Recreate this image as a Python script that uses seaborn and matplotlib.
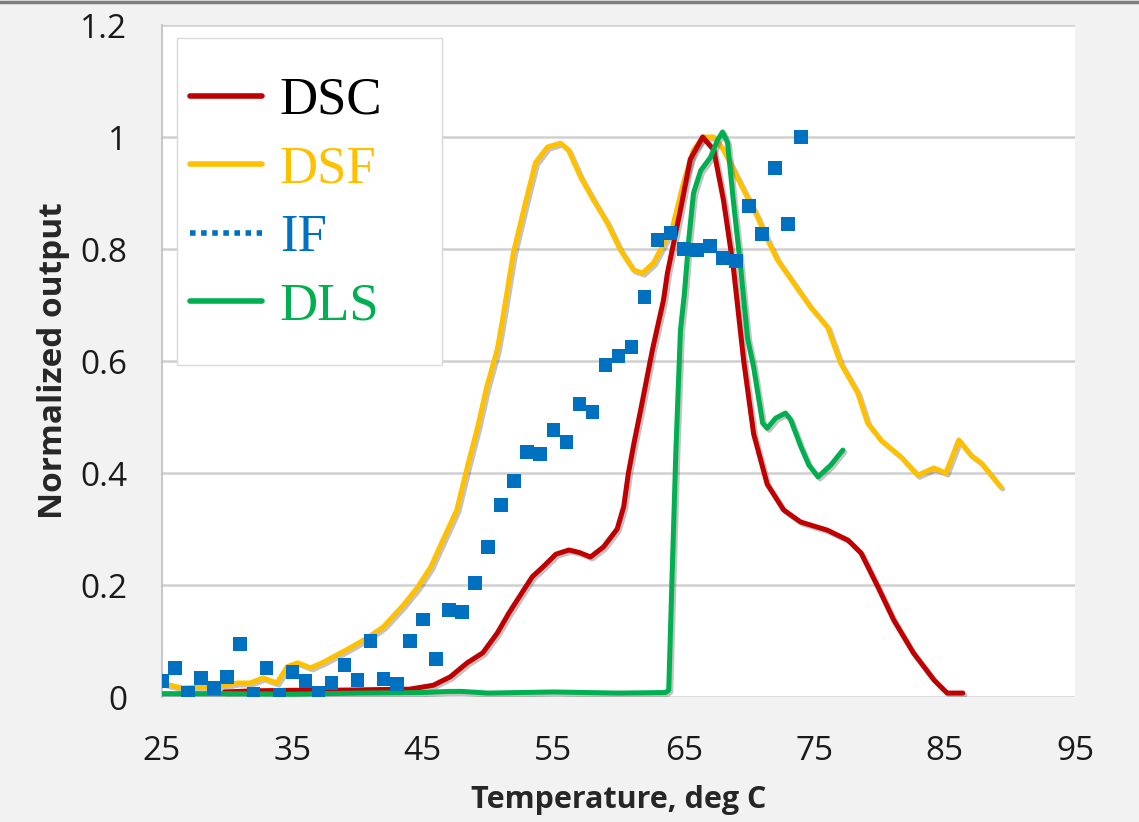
import numpy as np
import pandas as pd
import matplotlib
matplotlib.use("Agg")
import matplotlib.pyplot as plt
import matplotlib.patheffects as pe
from matplotlib.lines import Line2D
from matplotlib.patches import Rectangle
import seaborn as sns

# --- data ---
dsc_t = [29.8, 32, 35, 38, 41, 44, 45.8, 47.1, 48.4, 49.6, 50.7, 51.6, 52.7, 53.4, 54.2,
         55.2, 56.2, 57.0, 57.85, 58.85, 59.9, 60.4, 60.76, 61.2, 61.7, 62.6, 63.45, 63.75,
         64.75, 65.5, 66.45, 67.3, 68.05, 68.8, 69.6, 70.36, 71.4, 72.66, 73.96, 76.0,
         77.6, 78.6, 79.9, 81.1, 82.6, 84.2, 85.2, 86.4]
dsc_y = [0.009, 0.011, 0.012, 0.012, 0.013, 0.014, 0.021, 0.036, 0.061, 0.079, 0.114, 0.15,
         0.19, 0.215, 0.232, 0.255, 0.2625, 0.258, 0.25, 0.268, 0.30, 0.34, 0.40, 0.455,
         0.5125, 0.62, 0.709, 0.757, 0.87, 0.96, 1.0, 0.977, 0.887, 0.768, 0.6, 0.47, 0.38,
         0.334, 0.3125, 0.298, 0.28, 0.257, 0.196, 0.1375, 0.079, 0.03, 0.007, 0.007]

dsf_t = [25, 25.6, 26.6, 27.7, 29.2, 30.75, 31.75, 32.75, 33.8, 34.6, 35.4, 36.4, 37.4,
         38.4, 39.4, 40.7, 41.96, 43.5, 44.6, 45.6, 46.3, 47.6, 48.4, 49.2, 49.9, 50.7,
         51.1, 51.94, 52.86, 53.63, 54.55, 55.55, 56.16, 57.08, 58.08, 59.15, 60.15, 61.15,
         61.84, 62.68, 63.2, 64.14, 64.98, 65.75, 66.52, 67.29, 68.05, 68.82, 69.6, 70.66,
         71.43, 72.2, 73.43, 74.73, 76.04, 77.03, 78.34, 79.1, 80.1, 81.64, 82.94, 84.17,
         85.1, 86.09, 87.0, 87.8, 89.3]
dsf_y = [0.025, 0.021, 0.016, 0.018, 0.018, 0.025, 0.025, 0.034, 0.025, 0.054, 0.061, 0.052,
         0.0625, 0.075, 0.0875, 0.105, 0.125, 0.164, 0.196, 0.232, 0.268, 0.334, 0.41, 0.482,
         0.554, 0.62, 0.673, 0.793, 0.882, 0.954, 0.982, 0.989, 0.977, 0.929, 0.8875, 0.846,
         0.798, 0.7625, 0.757, 0.775, 0.798, 0.839, 0.918, 0.977, 1.0, 1.0, 0.977, 0.941,
         0.905, 0.857, 0.816, 0.78, 0.739, 0.696, 0.66, 0.596, 0.543, 0.489, 0.459, 0.429,
         0.396, 0.409, 0.4, 0.459, 0.432, 0.418, 0.375]

if_t = list(range(25, 75))
if_y = [0.029, 0.052, 0.007, 0.034, 0.016, 0.036, 0.095, 0.005, 0.052, 0.004,
        0.045, 0.029, 0.007, 0.025, 0.057, 0.03, 0.10, 0.032, 0.023, 0.10,
        0.138, 0.068, 0.155, 0.152, 0.204, 0.268, 0.343, 0.386, 0.4375, 0.434,
        0.477, 0.455, 0.523, 0.509, 0.593, 0.609, 0.625, 0.714, 0.816, 0.829,
        0.80, 0.798, 0.805, 0.784, 0.779, 0.877, 0.827, 0.945, 0.845, 1.0]

dls_t = [25, 30, 35, 40, 45, 47, 48, 50, 55, 60, 63.6, 63.85, 64.1, 64.4, 64.75, 65.05,
         65.4, 65.75, 66.3, 67.06, 67.6, 67.98, 68.36, 68.8, 69.36, 69.6, 69.9, 70.36,
         71.05, 71.4, 72.05, 72.8, 73.2, 74.0, 74.6, 75.3, 76.27, 77.2]
dls_y = [0.006, 0.006, 0.005, 0.007, 0.008, 0.01, 0.01, 0.007, 0.009, 0.007, 0.008, 0.012,
         0.21, 0.44, 0.655, 0.72, 0.82, 0.9, 0.94, 0.964, 0.995, 1.009, 0.99, 0.887, 0.768,
         0.71, 0.64, 0.589, 0.489, 0.48, 0.498, 0.507, 0.495, 0.446, 0.414, 0.393, 0.414,
         0.441]

x_ticks = [25, 35, 45, 55, 65, 75, 85, 95]
y_ticks = [0, 0.2, 0.4, 0.6, 0.8, 1.0, 1.2]
y_tick_labels = ["0", "0.2", "0.4", "0.6", "0.8", "1", "1.2"]

colors = {"DSC": "#c00000", "DSF": "#ffc000", "IF": "#0070c0", "DLS": "#00b050"}

sns.set_style("white")
plt.rcParams["font.family"] = ["Open Sans", "DejaVu Sans"]

fig = plt.figure(figsize=(11.39, 8.22), dpi=100, facecolor="#f2f2f2")
ax = fig.add_axes([162 / 1139, 1 - 697 / 822, 913 / 1139, 672 / 822])
ax.set_facecolor("white")

shadow = [pe.SimpleLineShadow(offset=(1.5, -1.5), shadow_color="#555555", alpha=0.35),
          pe.Normal()]

for name, t, y in [("DSF", dsf_t, dsf_y), ("DSC", dsc_t, dsc_y), ("DLS", dls_t, dls_y)]:
    df = pd.DataFrame({"t": t, "y": y})
    sns.lineplot(data=df, x="t", y="y", ax=ax, color=colors[name], lw=3.6,
                 sort=False, path_effects=shadow, zorder=3)

df_if = pd.DataFrame({"t": if_t, "y": if_y})
sns.scatterplot(data=df_if, x="t", y="y", ax=ax, marker="s", s=95,
                color=colors["IF"], edgecolor="none", zorder=4)

ax.set_xlim(25, 95)
ax.set_ylim(0, 1.2)
ax.set_xticks(x_ticks)
ax.set_yticks(y_ticks)
ax.set_yticklabels(y_tick_labels)
ax.tick_params(axis="both", length=0, labelsize=24, colors="#1a1a1a")
ax.tick_params(axis="x", pad=27)
ax.tick_params(axis="y", pad=25)
ax.yaxis.grid(True, color="#d0d0d0", lw=1.8)
ax.set_axisbelow(True)
for s in ["top", "right", "bottom"]:
    ax.spines[s].set_visible(False)
ax.spines["left"].set_color("#c8c8c8")
ax.spines["left"].set_linewidth(1.5)

ax.set_xlabel("Temperature, deg C", fontsize=22, fontweight="bold")
ax.set_ylabel("Normalized output", fontsize=24, fontweight="bold")
ax.xaxis.set_label_coords(0.5, (697 - 785) / 672)
ax.yaxis.set_label_coords((70 - 162) / 913, 0.5)

# legend frame (Excel-style box), legend entries drawn without their own frame
ax.add_patch(Rectangle((15 / 913, 332 / 672), 265 / 913, 327 / 672,
                       transform=ax.transAxes, facecolor="white",
                       edgecolor="#d9d9d9", lw=1.0, zorder=5))
handles = [Line2D([], [], color=colors["DSC"], lw=4),
           Line2D([], [], color=colors["DSF"], lw=4),
           Line2D([], [], color=colors["IF"], lw=4, ls=(0, (1, 1))),
           Line2D([], [], color=colors["DLS"], lw=4)]
leg = ax.legend(handles, ["DSC", "DSF", "IF", "DLS"], loc="upper left",
                bbox_to_anchor=(28 / 913, 620 / 672), borderaxespad=0, borderpad=0,
                frameon=False, prop={"family": "Liberation Serif", "size": 38},
                handlelength=1.36, handletextpad=0.34, labelspacing=0.39,
                labelcolor=["black", colors["DSF"], colors["IF"], colors["DLS"]])
leg.set_zorder(6)

fig.add_artist(Line2D([0, 1], [0.998, 0.998], color="#7f7f7f", lw=2.5,
                      transform=fig.transFigure))

fig.savefig("out.png", dpi=100, facecolor=fig.get_facecolor())
